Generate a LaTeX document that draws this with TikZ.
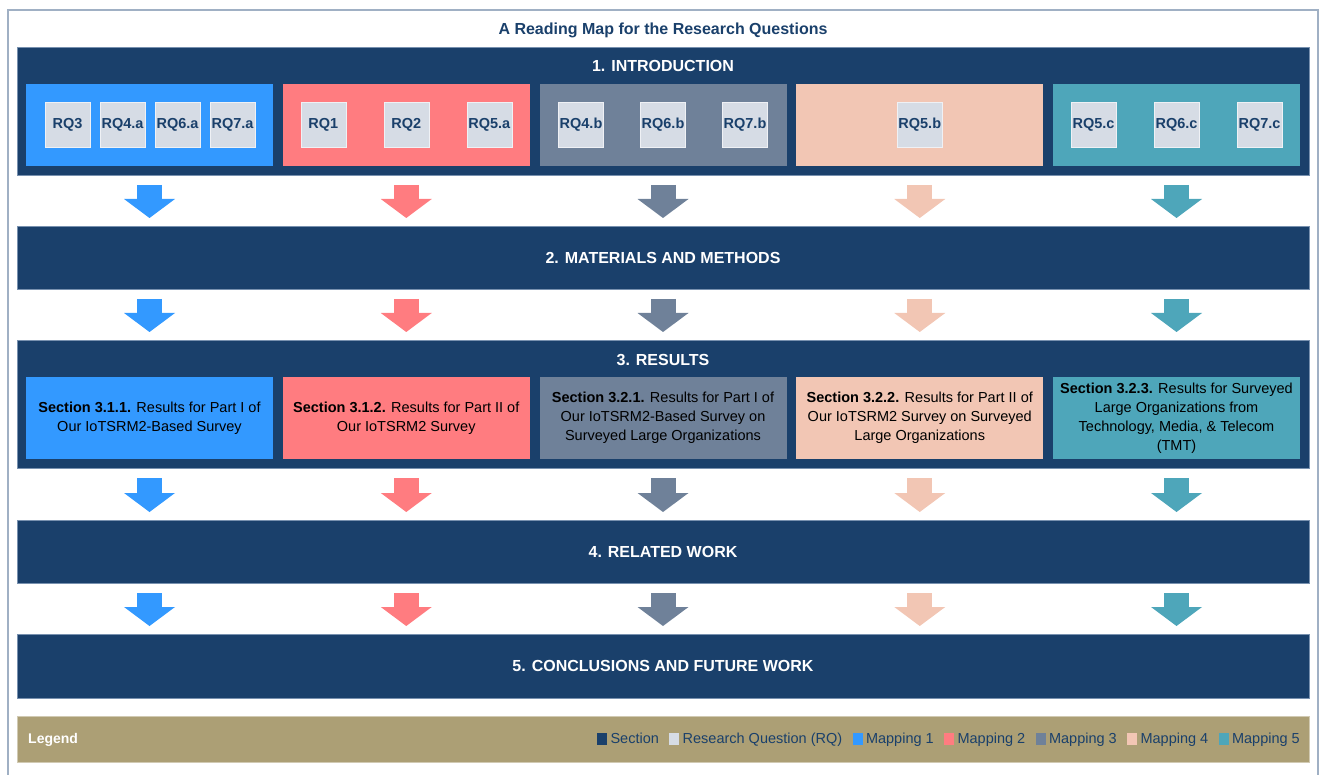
\documentclass[tikz,border=0pt]{standalone}
\usepackage{fontspec}
\setmainfont{Liberation Sans}
\usetikzlibrary{positioning, arrows.meta}
\definecolor{navy}{RGB}{26,64,107}
\definecolor{bandedge}{RGB}{120,145,175}
\definecolor{framegray}{RGB}{160,176,196}
\definecolor{map1}{RGB}{51,153,255}
\definecolor{map2}{RGB}{255,124,128}
\definecolor{map3}{RGB}{111,129,153}
\definecolor{map4}{RGB}{242,198,180}
\definecolor{map5}{RGB}{78,166,186}
\definecolor{rqgray}{RGB}{214,220,229}
\definecolor{legendtan}{RGB}{172,159,117}

\begin{document}
\begin{tikzpicture}[x=1pt, y=-1pt]
\tikzstyle{sectionband}=[rectangle, fill=navy, draw=bandedge, line width=0.6pt, outer sep=0pt, minimum width=1292pt, inner sep=0pt, text=white, font=\fontsize{16}{19}\selectfont\bfseries]
\tikzstyle{bandtitle}=[inner sep=0pt, text=white, text height=11.5pt, text depth=0pt, font=\fontsize{16}{19}\selectfont\bfseries]
\tikzstyle{mapbox}=[rectangle, minimum width=247pt, minimum height=82pt, inner sep=0pt, outer sep=0pt, node distance=9.75pt]
\tikzstyle{rqbox}=[rectangle, fill=rqgray, draw=white!60!rqgray, line width=0.5pt, outer sep=0pt, minimum size=45pt, inner sep=0pt, text=navy, font=\fontsize{14.5}{16}\selectfont\bfseries]
\tikzstyle{resbox}=[mapbox, align=center, text=black, font=\fontsize{14.5}{19}\selectfont]
\tikzstyle{flow}=[line width=25pt, -{Triangle[width=51pt, length=19pt, line width=0pt]}, shorten <=10pt, shorten >=8pt]
\tikzstyle{legkey}=[rectangle, minimum width=10pt, minimum height=12pt, inner sep=0pt]
\tikzstyle{legtext}=[inner sep=0pt, text=navy, text height=10.5pt, text depth=1pt, font=\fontsize{14.5}{17}\selectfont]
    \useasboundingbox (0,0) rectangle (1319,775);
    \draw[framegray, line width=1.2pt] (8,10) rectangle (1318,800);
    \node[text=navy, font=\fontsize{16}{19}\selectfont\bfseries] (title) at (663,30) {A Reading Map for the Research Questions};

    % 1. introduction with the research questions
    \node[sectionband, minimum height=128pt] (intro) at (663,111) {};
    \node[bandtitle, below=13pt of intro.north] (introtitle) {1. INTRODUCTION};
    \node[mapbox, fill=map1] (m1) at (149.5,125) {};
    \node[mapbox, fill=map2, right=of m1] (m2) {};
    \node[mapbox, fill=map3, right=of m2] (m3) {};
    \node[mapbox, fill=map4, right=of m3] (m4) {};
    \node[mapbox, fill=map5, right=of m4] (m5) {};
    \node[rqbox, right=19pt of m1.west] (rq3) {RQ3};
    \node[rqbox, right=10pt of rq3] (rq4a) {RQ4.a};
    \node[rqbox, right=10pt of rq4a] (rq6a) {RQ6.a};
    \node[rqbox, right=10pt of rq6a] (rq7a) {RQ7.a};
    \node[rqbox] (rq2) at (m2) {RQ2};
    \node[rqbox, left=38pt of rq2] (rq1) {RQ1};
    \node[rqbox, right=38pt of rq2] (rq5a) {RQ5.a};
    \node[rqbox] (rq6b) at (m3) {RQ6.b};
    \node[rqbox, left=37pt of rq6b] (rq4b) {RQ4.b};
    \node[rqbox, right=37pt of rq6b] (rq7b) {RQ7.b};
    \node[rqbox] (rq5b) at (m4) {RQ5.b};
    \node[rqbox] (rq6c) at (m5) {RQ6.c};
    \node[rqbox, left=38pt of rq6c] (rq5c) {RQ5.c};
    \node[rqbox, right=38pt of rq6c] (rq7c) {RQ7.c};

    % 2.--5. sections
    \node[sectionband, minimum height=63pt, below=51pt of intro] (methods) {2. MATERIALS AND METHODS};
    \node[sectionband, minimum height=128pt, below=51pt of methods] (results) {};
    \node[bandtitle, below=13.5pt of results.north] (resultstitle) {3. RESULTS};
    \node[resbox, fill=map1] (r1) at (149.5,418) {\textbf{Section 3.1.1.} Results for Part I of\\Our IoTSRM2-Based Survey};
    \node[resbox, fill=map2, right=of r1] (r2) {\textbf{Section 3.1.2.} Results for Part II of\\Our IoTSRM2 Survey};
    \node[resbox, fill=map3, right=of r2] (r3) {\textbf{Section 3.2.1.} Results for Part I of\\Our IoTSRM2-Based Survey on\\Surveyed Large Organizations};
    \node[resbox, fill=map4, right=of r3] (r4) {\textbf{Section 3.2.2.} Results for Part II of\\Our IoTSRM2 Survey on Surveyed\\Large Organizations};
    \node[resbox, fill=map5, right=of r4] (r5) {\textbf{Section 3.2.3.} Results for Surveyed\\Large Organizations from\\Technology, Media, \& Telecom\\(TMT)};
    \node[sectionband, minimum height=63pt, below=52pt of results] (related) {4. RELATED WORK};
    \node[sectionband, minimum height=64pt, below=51pt of related] (concl) {5. CONCLUSIONS AND FUTURE WORK};

    % reading flow
    \path (intro.south -| m1) edge [flow, map1] (methods.north -| m1)
          (intro.south -| m2) edge [flow, map2] (methods.north -| m2)
          (intro.south -| m3) edge [flow, map3] (methods.north -| m3)
          (intro.south -| m4) edge [flow, map4] (methods.north -| m4)
          (intro.south -| m5) edge [flow, map5] (methods.north -| m5);
    \path (methods.south -| m1) edge [flow, map1] (results.north -| m1)
          (methods.south -| m2) edge [flow, map2] (results.north -| m2)
          (methods.south -| m3) edge [flow, map3] (results.north -| m3)
          (methods.south -| m4) edge [flow, map4] (results.north -| m4)
          (methods.south -| m5) edge [flow, map5] (results.north -| m5);
    \path (results.south -| m1) edge [flow, map1] (related.north -| m1)
          (results.south -| m2) edge [flow, map2] (related.north -| m2)
          (results.south -| m3) edge [flow, map3] (related.north -| m3)
          (results.south -| m4) edge [flow, map4] (related.north -| m4)
          (results.south -| m5) edge [flow, map5] (related.north -| m5);
    \path (related.south -| m1) edge [flow, map1] (concl.north -| m1)
          (related.south -| m2) edge [flow, map2] (concl.north -| m2)
          (related.south -| m3) edge [flow, map3] (concl.north -| m3)
          (related.south -| m4) edge [flow, map4] (concl.north -| m4)
          (related.south -| m5) edge [flow, map5] (concl.north -| m5);

    % legend
    \node[rectangle, fill=legendtan, draw=legendtan!55!white, line width=1pt, outer sep=0pt, minimum width=1292pt, minimum height=46pt, below=18pt of concl] (legend) {};
    \node[legtext, text=white, font=\fontsize{14}{17}\selectfont\bfseries, right=11pt of legend.west] (legendtitle) {Legend};
    \node[legtext, left=9pt of legend.east] (lm5) {Mapping 5};
    \node[legkey, fill=map5, left=3pt of lm5] (lk5) {};
    \node[legtext, left=10pt of lk5] (lm4) {Mapping 4};
    \node[legkey, fill=map4, left=3pt of lm4] (lk4) {};
    \node[legtext, left=10pt of lk4] (lm3) {Mapping 3};
    \node[legkey, fill=map3, left=3pt of lm3] (lk3) {};
    \node[legtext, left=10pt of lk3] (lm2) {Mapping 2};
    \node[legkey, fill=map2, left=3pt of lm2] (lk2) {};
    \node[legtext, left=10pt of lk2] (lm1) {Mapping 1};
    \node[legkey, fill=map1, left=3pt of lm1] (lk1) {};
    \node[legtext, left=10pt of lk1] (lrq) {Research Question (RQ)};
    \node[legkey, fill=rqgray, left=3pt of lrq] (lkrq) {};
    \node[legtext, left=10pt of lkrq] (lsec) {Section};
    \node[legkey, fill=navy, left=3pt of lsec] (lksec) {};
\end{tikzpicture}
\end{document}
